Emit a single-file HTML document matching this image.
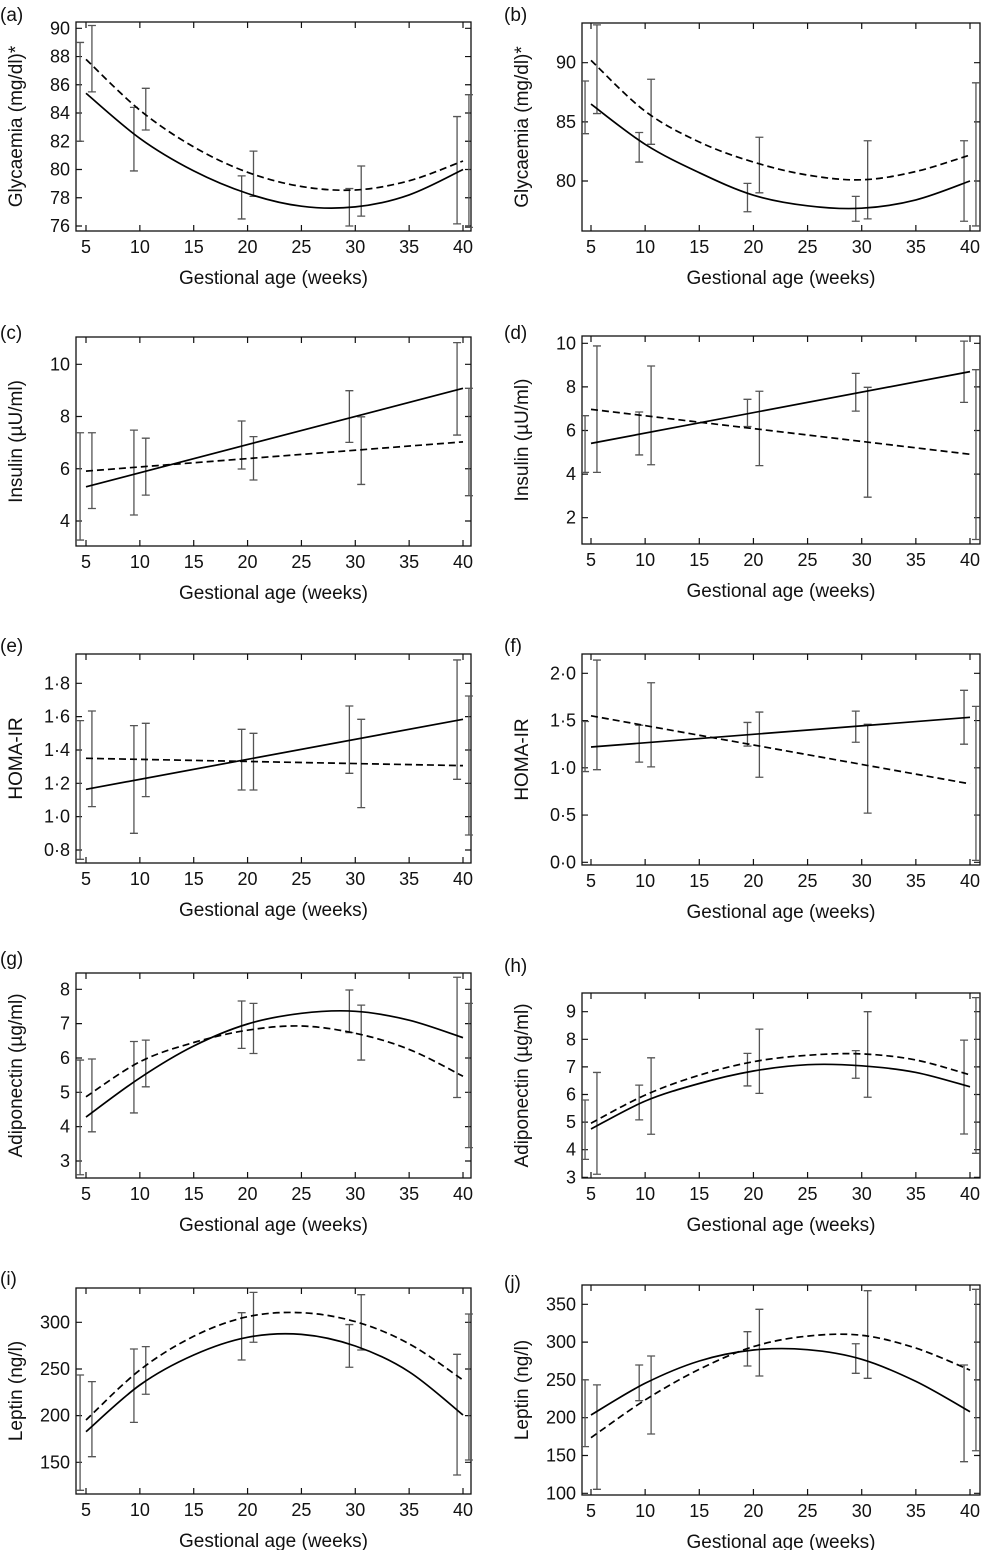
<!DOCTYPE html>
<html><head><meta charset="utf-8"><style>
html,body{margin:0;padding:0;background:#fff;}
svg{display:block;font-family:"Liberation Sans",Arial,sans-serif;}
</style></head><body>
<svg id="fig" width="982" height="1550" viewBox="0 0 982 1550" xmlns="http://www.w3.org/2000/svg"></svg>
<script>
const barWeeks=[5,10,20,30,40];
const curveWeeks=[5,10,15,20,25,30,35,40];
const lineWeeks=[5,40];
// (a)
const aTicks=[76,78,80,82,84,86,88,90];
const aSolid=[85.4,82.2,79.9,78.3,77.4,77.35,78.2,80.0];
const aDashed=[87.8,84.2,81.6,79.8,78.8,78.55,79.2,80.6];
const aLeftLo=[82.0,79.9,76.5,76.0,76.15], aLeftHi=[89.0,84.4,79.55,78.65,83.75];
const aRightLo=[85.5,82.8,78.1,76.7,75.9], aRightHi=[90.2,85.75,81.3,80.25,85.3];
// (b)
const bTicks=[80,85,90];
const bSolid=[86.5,83.1,80.7,78.8,77.9,77.7,78.4,80.0];
const bDashed=[90.2,85.9,83.3,81.6,80.5,80.1,80.8,82.2];
const bLeftLo=[84.0,81.6,77.4,76.6,76.6], bLeftHi=[88.45,84.1,79.8,78.7,83.4];
const bRightLo=[85.7,83.1,79.0,76.8,76.2], bRightHi=[93.2,88.6,83.7,83.4,88.3];
// (c)
const cTicks=[4,6,8,10];
const cSolid=[5.31,9.08], cDashed=[5.91,7.03];
const cLeftLo=[3.27,4.23,5.99,7.01,7.29], cLeftHi=[7.38,7.48,7.83,8.99,10.83];
const cRightLo=[4.48,4.99,5.57,5.40,4.97], cRightHi=[7.38,7.17,7.23,7.99,9.08];
// (d)
const dTicks=[2,4,6,8,10];
const dSolid=[5.41,8.70], dDashed=[6.97,4.91];
const dLeftLo=[4.08,4.88,6.18,6.89,7.29], dLeftHi=[6.68,6.85,7.43,8.62,10.1];
const dRightLo=[4.08,4.43,4.39,2.94,1.0], dRightHi=[9.88,8.96,7.80,7.98,8.79];
// (e)
const eTicks=[0.8,1.0,1.2,1.4,1.6,1.8];
const eSolid=[1.164,1.584], eDashed=[1.35,1.306];
const eLeftLo=[0.744,0.90,1.16,1.26,1.224], eLeftHi=[1.576,1.546,1.524,1.664,1.94];
const eRightLo=[1.06,1.12,1.16,1.054,0.89], eRightHi=[1.634,1.56,1.50,1.584,1.724];
// (f)
const fTicks=[0.0,0.5,1.0,1.5,2.0];
const fSolid=[1.22,1.534], fDashed=[1.55,0.83];
const fLeftLo=[0.96,1.06,1.23,1.27,1.25], fLeftHi=[1.49,1.45,1.48,1.60,1.82];
const fRightLo=[0.98,1.01,0.90,0.52,0.02], fRightHi=[2.14,1.90,1.59,1.46,1.65];
// (g)
const gTicks=[3,4,5,6,7,8];
const gSolid=[4.28,5.42,6.35,6.99,7.3,7.36,7.1,6.59];
const gDashed=[4.87,5.89,6.45,6.81,6.93,6.72,6.25,5.47];
const gLeftLo=[2.6,4.40,6.28,6.74,4.85], gLeftHi=[5.94,6.48,7.66,7.98,8.35];
const gRightLo=[3.85,5.16,6.13,5.94,3.39], gRightHi=[5.97,6.52,7.59,7.54,7.59];
// (h)
const hTicks=[3,4,5,6,7,8,9];
const hSolid=[4.75,5.76,6.4,6.85,7.08,7.04,6.8,6.28];
const hDashed=[4.96,5.98,6.7,7.19,7.42,7.47,7.25,6.71];
const hLeftLo=[3.65,5.08,6.31,6.59,4.57], hLeftHi=[5.80,6.34,7.49,7.59,7.97];
const hRightLo=[3.11,4.56,6.04,5.90,3.87], hRightHi=[6.80,7.33,8.37,9.0,9.51];
// (i)
const iTicks=[150,200,250,300];
const iSolid=[182.8,232.8,265,283.9,287,274.6,247,200.7];
const iDashed=[195.3,248.9,285,306,310.3,300.7,277,238.2];
const iLeftLo=[120,192.8,259.6,251.8,136.4], iLeftHi=[243.5,271.4,310.3,297.6,265.7];
const iRightLo=[156,222.9,278.6,270.3,152.5], iRightHi=[236.4,273.9,332.1,329.6,308.9];
// (j)
const jTicks=[100,150,200,250,300,350];
const jSolid=[203.6,245.5,275,289.6,290,277.3,248,208];
const jDashed=[173.6,223.4,264,294,308,309,292,263];
const jLeftLo=[161.7,222.5,268.4,258.7,141.8], jLeftHi=[250,269.7,313.8,297.8,269.7];
const jRightLo=[105.3,178.4,255.2,252.1,156.3], jRightHi=[243.4,281.6,343.4,368,369.8];

const xTicks=[5,10,15,20,25,30,35,40];
const NS='http://www.w3.org/2000/svg';
const svg=document.getElementById('fig');
function mk(tag,attrs,parent){const e=document.createElementNS(NS,tag);for(const k in attrs)e.setAttribute(k,attrs[k]);(parent||svg).appendChild(e);return e;}

const L={bl:76,br:471,x5:86,x40:463,lx:4,ty:16};
const R={bl:582,br:980,x5:591,x40:970,lx:508,ty:522};
const panels=[
 {id:'a',col:L,top:22,bot:231,vA:90,pA:28.3,vB:76,pB:226,ticks:aTicks,dec:0,title:'Glycaemia (mg/dl)*',ly:14,cw:curveWeeks,solid:aSolid,dashed:aDashed,llo:aLeftLo,lhi:aLeftHi,rlo:aRightLo,rhi:aRightHi},
 {id:'b',col:R,top:23,bot:231,vA:90,pA:62.7,vB:80,pB:181,ticks:bTicks,dec:0,title:'Glycaemia (mg/dl)*',ly:14,cw:curveWeeks,solid:bSolid,dashed:bDashed,llo:bLeftLo,lhi:bLeftHi,rlo:bRightLo,rhi:bRightHi},
 {id:'c',col:L,top:337,bot:546,vA:10,pA:364.3,vB:4,pB:521,ticks:cTicks,dec:0,title:'Insulin (µU/ml)',ly:332,cw:lineWeeks,solid:cSolid,dashed:cDashed,llo:cLeftLo,lhi:cLeftHi,rlo:cRightLo,rhi:cRightHi},
 {id:'d',col:R,top:336,bot:544,vA:10,pA:343.3,vB:2,pB:517.7,ticks:dTicks,dec:0,title:'Insulin (µU/ml)',ly:332,cw:lineWeeks,solid:dSolid,dashed:dDashed,llo:dLeftLo,lhi:dLeftHi,rlo:dRightLo,rhi:dRightHi},
 {id:'e',col:L,top:654,bot:863,vA:1.8,pA:683.3,vB:0.8,pB:850,ticks:eTicks,dec:1,title:'HOMA-IR',ly:645,cw:lineWeeks,solid:eSolid,dashed:eDashed,llo:eLeftLo,lhi:eLeftHi,rlo:eRightLo,rhi:eRightHi},
 {id:'f',col:R,top:654,bot:865,vA:2.0,pA:673.3,vB:0.0,pB:862.3,ticks:fTicks,dec:1,title:'HOMA-IR',ly:645,cw:lineWeeks,solid:fSolid,dashed:fDashed,llo:fLeftLo,lhi:fLeftHi,rlo:fRightLo,rhi:fRightHi},
 {id:'g',col:L,top:973,bot:1178,vA:8,pA:989.3,vB:3,pB:1161,ticks:gTicks,dec:0,title:'Adiponectin (µg/ml)',ly:958,cw:curveWeeks,solid:gSolid,dashed:gDashed,llo:gLeftLo,lhi:gLeftHi,rlo:gRightLo,rhi:gRightHi},
 {id:'h',col:R,top:993,bot:1178,vA:9,pA:1011.7,vB:3,pB:1177.3,ticks:hTicks,dec:0,title:'Adiponectin (µg/ml)',ly:965,cw:curveWeeks,solid:hSolid,dashed:hDashed,llo:hLeftLo,lhi:hLeftHi,rlo:hRightLo,rhi:hRightHi},
 {id:'i',col:L,top:1288,bot:1494,vA:300,pA:1322.3,vB:150,pB:1462.3,ticks:iTicks,dec:0,title:'Leptin (ng/l)',ly:1278,cw:curveWeeks,solid:iSolid,dashed:iDashed,llo:iLeftLo,lhi:iLeftHi,rlo:iRightLo,rhi:iRightHi},
 {id:'j',col:R,top:1285,bot:1495,vA:350,pA:1304.3,vB:100,pB:1493.3,ticks:jTicks,dec:0,title:'Leptin (ng/l)',ly:1282,cw:curveWeeks,solid:jSolid,dashed:jDashed,llo:jLeftLo,lhi:jLeftHi,rlo:jRightLo,rhi:jRightHi}
];

function smoothPath(pts){
  if(pts.length===2)return 'M'+pts[0][0]+','+pts[0][1]+' L'+pts[1][0]+','+pts[1][1];
  let d='M'+pts[0][0]+','+pts[0][1];
  for(let i=0;i<pts.length-1;i++){
    const p0=pts[Math.max(0,i-1)],p1=pts[i],p2=pts[i+1],p3=pts[Math.min(pts.length-1,i+2)];
    const c1=[p1[0]+(p2[0]-p0[0])/6,p1[1]+(p2[1]-p0[1])/6];
    const c2=[p2[0]-(p3[0]-p1[0])/6,p2[1]-(p3[1]-p1[1])/6];
    d+=' C'+c1[0].toFixed(1)+','+c1[1].toFixed(1)+' '+c2[0].toFixed(1)+','+c2[1].toFixed(1)+' '+p2[0].toFixed(1)+','+p2[1].toFixed(1);
  }
  return d;
}

panels.forEach(p=>{
  const c=p.col;
  const xs=w=>c.x5+(w-5)*(c.x40-c.x5)/35;
  const ys=v=>p.pA+(v-p.vA)*(p.pB-p.pA)/(p.vB-p.vA);
  const g=mk('g',{});
  
  
  const lab=mk('text',{x:c.lx-4,y:p.ly+7,'font-size':19,fill:'#111'},g);
  lab.textContent='('+p.id+')';
  
  
  const box=mk('rect',{x:c.bl,y:p.top,width:c.br-c.bl,height:p.bot-p.top,fill:'none',stroke:'#111','stroke-width':1.3},g);
  
  
  xTicks.forEach(t=>{
    const x=xs(t);
    const tk=mk('path',{d:`M${x},${p.bot}v-6M${x},${p.top}v6`,stroke:'#111','stroke-width':1.2},g);
    
    
    const tl=mk('text',{x:x,y:p.bot+22,'font-size':18,'text-anchor':'middle',fill:'#111'},g);
    tl.textContent=t;
    
    
  });
  p.ticks.forEach(t=>{
    const y=ys(t);
    const tk=mk('path',{d:`M${c.bl},${y}h6M${c.br},${y}h-6`,stroke:'#111','stroke-width':1.2},g);
    
    
    const tl=mk('text',{x:c.bl-6,y:y+6,'font-size':18,'text-anchor':'end',fill:'#111'},g);
    tl.textContent=p.dec?t.toFixed(1).replace('.','·'):t;
    
    
  });
  const xt=mk('text',{x:(c.bl+c.br)/2,y:p.bot+53,'font-size':19,'text-anchor':'middle',fill:'#111'},g);
  xt.textContent='Gestional age (weeks)';
  
  
  const cy=(p.top+p.bot)/2;
  const yt=mk('text',{x:c.ty,y:cy,'font-size':19,'text-anchor':'middle',fill:'#111',transform:`rotate(-90 ${c.ty} ${cy})`,dy:6},g);
  yt.textContent=p.title;
  
  
  [[p.llo,p.lhi,-0.55,'left'],[p.rlo,p.rhi,0.55,'right']].forEach(([lo,hi,off,side])=>{
    barWeeks.forEach((w,i)=>{
      const x=xs(w+off),y1=ys(lo[i]),y2=ys(hi[i]);
      const eb=mk('path',{d:`M${x},${y1}V${y2}M${x-4},${y1}h8M${x-4},${y2}h8`,stroke:'#555','stroke-width':1.3,fill:'none'},g);
      
      
    });
  });
  const sp=mk('path',{d:smoothPath(p.cw.map((w,i)=>[xs(w),ys(p.solid[i])])),stroke:'#000','stroke-width':1.7,fill:'none'},g);
  
  
  const dp=mk('path',{d:smoothPath(p.cw.map((w,i)=>[xs(w),ys(p.dashed[i])])),stroke:'#000','stroke-width':1.7,fill:'none','stroke-dasharray':'7,4'},g);
  
  
});
</script>
</body></html>
